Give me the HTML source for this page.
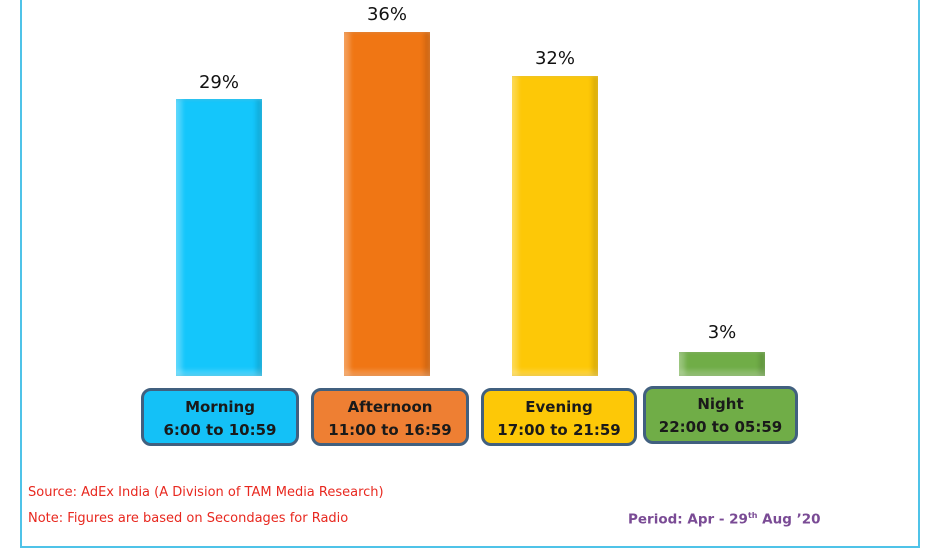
<!DOCTYPE html><html><head><style>
body{margin:0;width:935px;height:553px;background:#fff;position:relative;overflow:hidden;font-family:"DejaVu Sans","Liberation Sans",sans-serif}
.frame{position:absolute;left:20px;top:-5px;width:896px;height:549px;border:2px solid #4fc3e8}
.bar{position:absolute;width:86px;box-shadow:inset 6px 0 4px rgba(255,255,255,.25),inset -6px 0 4px rgba(0,0,0,.12),inset 0 -6px 4px rgba(255,255,255,.2)}
.pct{position:absolute;width:100px;text-align:center;font-size:18px;color:#111}
.lab{position:absolute;height:58px;border:3px solid #41607f;border-radius:10px;box-sizing:border-box;text-align:center;font-weight:bold;font-size:15px;color:#1a1a1a;line-height:23px;padding-top:5px}
.t{position:absolute;font-size:13px}
</style></head><body>
<div class="frame"></div>
<div class="bar" style="left:176px;top:99px;height:277px;background:#14c6fb"></div>
<div class="bar" style="left:344px;top:32px;height:344px;background:#f07614"></div>
<div class="bar" style="left:512px;top:76px;height:300px;background:#fdc807"></div>
<div class="bar" style="left:679px;top:352px;height:24px;background:#70ad47"></div>
<div class="pct" style="left:169px;top:72px">29%</div>
<div class="pct" style="left:337px;top:4px">36%</div>
<div class="pct" style="left:505px;top:48px">32%</div>
<div class="pct" style="left:672px;top:322px">3%</div>
<div class="lab" style="left:141px;top:388px;width:158px;background:#14c1f7">Morning<br>6:00 to 10:59</div>
<div class="lab" style="left:311px;top:388px;width:158px;background:#ee7f33">Afternoon<br>11:00 to 16:59</div>
<div class="lab" style="left:481px;top:388px;width:156px;background:#fdc807">Evening<br>17:00 to 21:59</div>
<div class="lab" style="left:643px;top:386px;width:155px;background:#70ad47;padding-top:4px">Night<br>22:00 to 05:59</div>
<div class="t" style="left:28px;top:485px;color:#e8281f">Source: AdEx India (A Division of TAM Media Research)</div>
<div class="t" style="left:28px;top:511px;color:#e8281f">Note: Figures are based on Secondages for Radio</div>
<div class="t" style="left:628px;top:511px;color:#7a4b95;font-weight:bold;font-size:13.5px">Period: Apr - 29<sup style="font-size:8px">th</sup> Aug ’20</div>
</body></html>
